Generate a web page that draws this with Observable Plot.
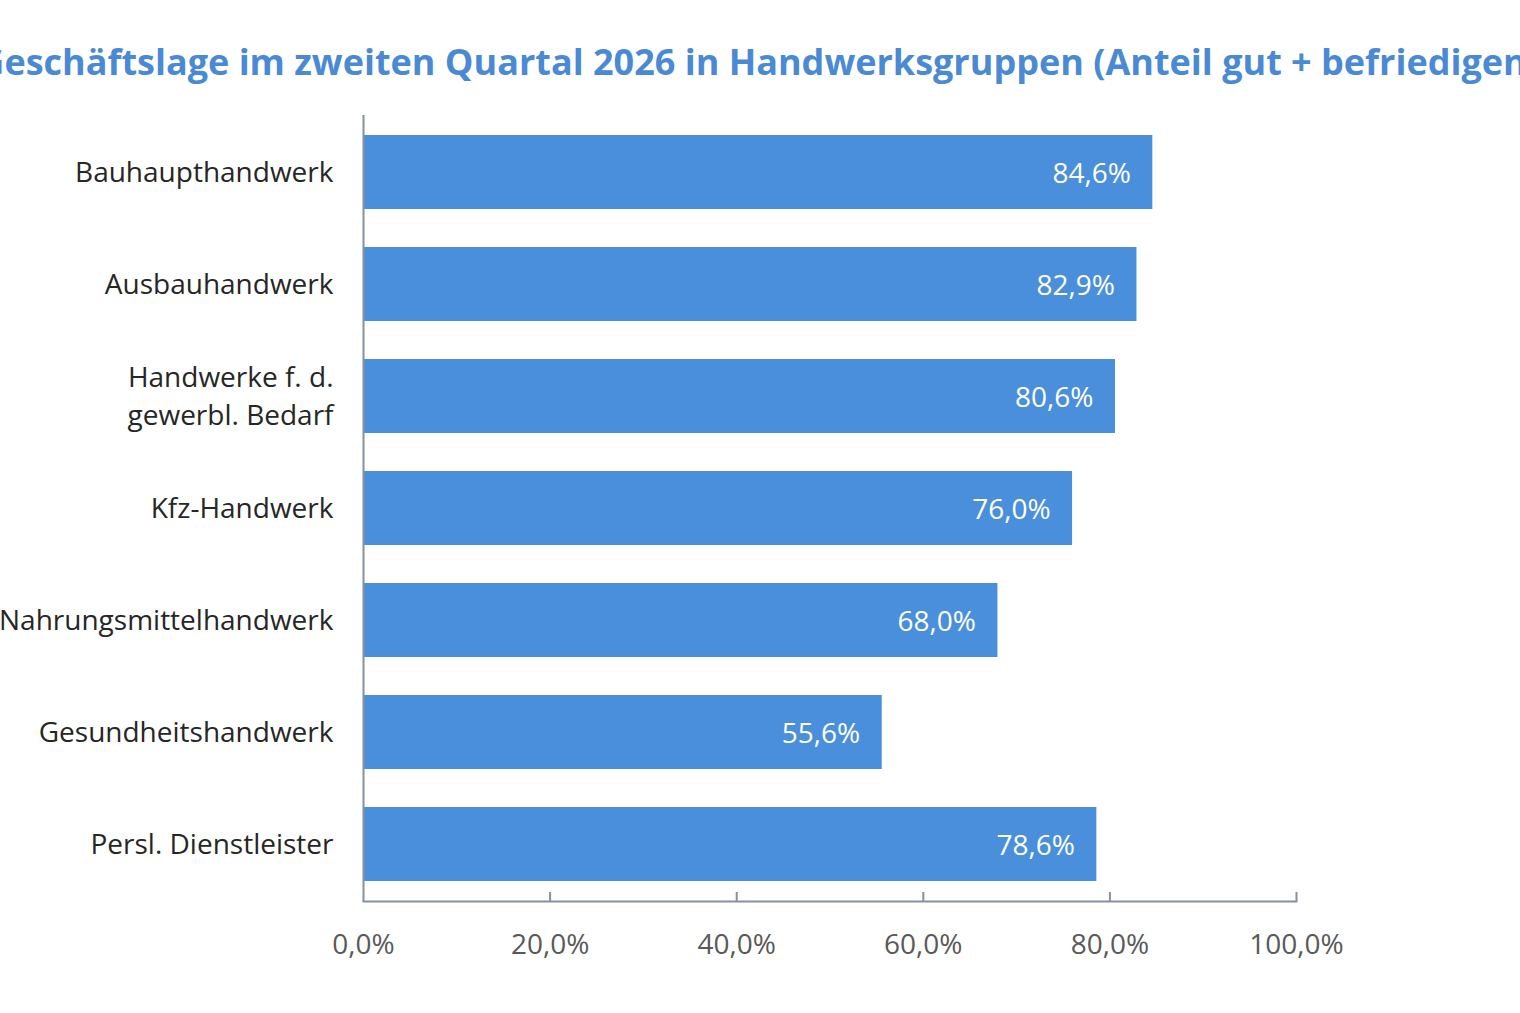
<!DOCTYPE html>
<html>
<head>
<meta charset="utf-8">
<script src="https://cdn.jsdelivr.net/npm/d3@7"></script>
<script src="https://cdn.jsdelivr.net/npm/@observablehq/plot@0.6"></script>
<style>
  html, body { margin: 0; padding: 0; background: #fff; overflow: hidden; width: 1520px; height: 1013px; }
  #wrap { position: relative; width: 1520px; height: 1013px; overflow: hidden; }
  #title { position: absolute; top: 42px; left: 770px; transform: translateX(-50%); white-space: nowrap;
           font-family: "Open Sans", sans-serif; font-weight: 700; font-size: 36px; line-height: 40px; color: #4a8ad4; }
  #chart { position: absolute; top: 100px; left: 0; }
</style>
</head>
<body>
<div id="wrap">
  <div id="title">Geschäftslage im zweiten Quartal 2026 in Handwerksgruppen (Anteil gut + befriedigend)</div>
  <div id="chart"></div>
</div>
<script>
const categories = ["Bauhaupthandwerk", "Ausbauhandwerk", "Handwerke f. d.\ngewerbl. Bedarf", "Kfz-Handwerk", "Nahrungsmittelhandwerk", "Gesundheitshandwerk", "Persl. Dienstleister"];
const values = [84.6, 82.9, 80.6, 76.0, 68.0, 55.6, 78.6];
const xTicks = [0, 20, 40, 60, 80, 100];

const data = categories.map((c, i) => ({category: c, value: values[i]}));
const fmt = d => d.toFixed(1).replace(".", ",") + "%";

const H = 913, MT = 15, MB = 112;
const frameH = H - MT - MB;

const chart = Plot.plot({
  width: 1520,
  height: H,
  marginLeft: 363,
  marginRight: 224,
  marginTop: MT,
  marginBottom: MB,
  style: {fontFamily: "'Open Sans', sans-serif", background: "#fff"},
  x: {domain: [0, 100], axis: null, label: null},
  y: {domain: categories, paddingInner: 0.343, paddingOuter: 0.1715, axis: null, label: null},
  marks: [
    Plot.barX(data, {x: "value", y: "category", fill: "#4a8fdb"}),
    Plot.text(data, {x: "value", y: "category", text: d => fmt(d.value), textAnchor: "end", dx: -22, dy: 2, fill: "#ffffff", fontSize: 28}),
    Plot.ruleX([0], {stroke: "#8590a0", strokeWidth: 2}),
    Plot.frame({anchor: "bottom", stroke: "#8590a0", strokeWidth: 2}),
    Plot.ruleX(xTicks.slice(1), {x: d => d, stroke: "#8590a0", strokeWidth: 2, insetTop: frameH - 9}),
    Plot.axisX({ticks: xTicks, tickSize: 0, tickPadding: 33, tickFormat: fmt, fontSize: 28, fill: "#595959", label: null}),
    Plot.axisY({tickSize: 0, tickPadding: 30, dy: -3, fontSize: 28, fill: "#262626", lineHeight: 1.36, label: null})
  ]
});
document.getElementById("chart").appendChild(chart);
</script>
</body>
</html>
